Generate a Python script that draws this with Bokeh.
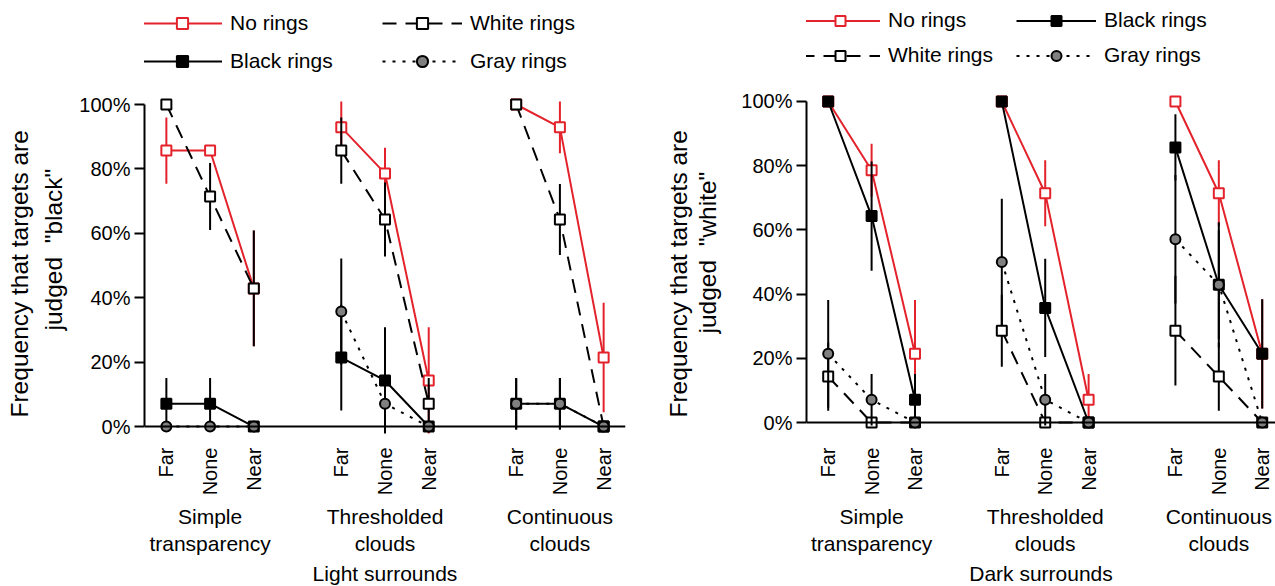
import math
from bokeh.plotting import figure
from bokeh.layouts import row
from bokeh.models import (Range1d, FixedTicker, LinearAxis, Span, Legend, LegendItem,
                          PrintfTickFormatter, Title)
from bokeh.embed import file_html
from bokeh.resources import INLINE

# ---------------- data ----------------
positions = [0, 1, 2, 4, 5, 6, 8, 9, 10]
conditions = ["Far", "None", "Near"] * 3
groups = ["Simple\ntransparency", "Thresholded\nclouds", "Continuous\nclouds"]
y_ticks = [0, 20, 40, 60, 80, 100]

# Light surrounds: % of targets judged "black"
light_no = [85.7, 85.7, 42.9, 92.9, 78.6, 14.3, 100, 92.9, 21.4]
light_no_err = [10.3, 0, 18, 8, 8, 16.5, 0, 8, 17]
light_white = [100, 71.4, 42.9, 85.7, 64.3, 7.1, 100, 64.3, 0]
light_white_err = [0, 10.4, 18, 10.3, 11.5, 8, 0, 11, 0]
light_black = [7.1, 7.1, 0, 21.4, 14.3, 0, 7.1, 7.1, 0]
light_black_err = [8, 8, 0, 16.4, 16.5, 0, 8, 8, 0]
light_gray = [0, 0, 0, 35.7, 7.1, 0, 7.1, 7.1, 0]
light_gray_err = [0, 0, 0, 16.5, 8, 0, 8, 8, 0]

# Dark surrounds: % of targets judged "white"
dark_no = [100, 78.6, 21.4, 100, 71.4, 7.1, 100, 71.4, 21.4]
dark_no_err = [0, 8.2, 16.8, 0, 10.3, 8, 0, 10.3, 17]
dark_white = [14.3, 0, 0, 28.6, 0, 0, 28.6, 14.3, 0]
dark_white_err = [10.6, 0, 0, 11.2, 0, 0, 17.1, 10.6, 0]
dark_black = [100, 64.3, 7.1, 100, 35.7, 0, 85.7, 42.9, 21.4]
dark_black_err = [0, 17, 8, 0, 15.3, 0, 10.3, 17, 17]
dark_gray = [21.4, 7.1, 0, 50, 7.1, 0, 57.1, 42.9, 0]
dark_gray_err = [16.8, 8, 0, 19.7, 8, 0, 20, 19.5, 0]

RED = "#e3222b"
FONT = "Liberation Sans"

STYLES = {
    "No rings": dict(color=RED, dash="solid", marker="square", fill="white", mline=RED, err=RED),
    "White rings": dict(color="black", dash="14 9", marker="square", fill="white", mline="black", err="black"),
    "Black rings": dict(color="black", dash="solid", marker="square", fill="black", mline="black", err="black"),
    "Gray rings": dict(color="black", dash="3 7", marker="circle", fill="#808080", mline="black", err="black"),
}


def side_title(text, size, standoff, offset):
    return Title(text=text, align="left", vertical_align="middle", offset=offset, standoff=standoff,
                 text_font=FONT, text_font_size=size, text_font_style="normal", text_color="black")


def panel(series, legend_order, ylab_lines, xlab, width, b_left, b_right, x_end, y_start, y_end,
          legend_loc, glyph_h, label_w, spacer, s_line2, s_line1, off_line1, off_line2):
    p = figure(width=width, height=588, x_range=Range1d(-0.5, x_end), y_range=Range1d(y_start, y_end),
               output_backend="svg", toolbar_location=None, x_axis_location=None, y_axis_location=None,
               min_border_left=b_left, min_border_right=b_right, min_border_top=0,
               min_border_bottom=0)
    p.outline_line_color = None
    p.background_fill_color = "white"
    p.xgrid.visible = False
    p.ygrid.visible = False

    yax = LinearAxis(ticker=FixedTicker(ticks=y_ticks), formatter=PrintfTickFormatter(format="%d%%"),
                     bounds=(0, 100))
    yax.axis_line_width = 2
    yax.major_tick_line_width = 2
    yax.major_tick_out = 10
    yax.major_tick_in = 0
    yax.minor_tick_line_color = None
    yax.major_label_standoff = 4
    yax.major_label_text_font = FONT
    yax.major_label_text_font_size = "20px"
    yax.major_label_text_color = "black"
    p.add_layout(yax, "left")

    # y-axis title, two lines, placed in side panels
    p.add_layout(side_title("\u00a0", "1px", spacer, 0), "left")
    p.add_layout(side_title(ylab_lines[1], "24.5px", s_line2, off_line2), "left")
    p.add_layout(side_title(ylab_lines[0], "24.5px", s_line1, off_line1), "left")

    cax = LinearAxis(ticker=FixedTicker(ticks=positions),
                     major_label_overrides={pos: lab for pos, lab in zip(positions, conditions)})
    cax.major_label_orientation = math.pi / 2
    cax.axis_line_color = None
    cax.major_tick_line_color = None
    cax.minor_tick_line_color = None
    cax.major_tick_out = 0
    cax.major_tick_in = 0
    cax.major_label_standoff = 11
    cax.major_label_text_font = FONT
    cax.major_label_text_font_size = "20px"
    cax.major_label_text_color = "black"
    p.add_layout(cax, "below")

    centers = [sum(positions[3 * i:3 * i + 3]) / 3 for i in range(3)]
    gax = LinearAxis(ticker=FixedTicker(ticks=centers),
                     major_label_overrides={c: g for c, g in zip(centers, groups)}, axis_label=xlab)
    gax.axis_line_color = None
    gax.major_tick_line_color = None
    gax.minor_tick_line_color = None
    gax.major_tick_out = 0
    gax.major_tick_in = 0
    gax.major_label_standoff = 6
    gax.major_label_text_font = FONT
    gax.major_label_text_font_size = "21px"
    gax.major_label_text_color = "black"
    gax.axis_label_text_font = FONT
    gax.axis_label_text_font_size = "21px"
    gax.axis_label_text_font_style = "normal"
    gax.axis_label_text_color = "black"
    gax.axis_label_standoff = 4
    p.add_layout(gax, "below")

    p.add_layout(Span(location=0, dimension="width", line_color="black", line_width=2))

    renderers = {}
    for name in ["No rings", "White rings", "Black rings", "Gray rings"]:
        vals, errs = series[name]
        st = STYLES[name]
        lo = [v - e for v, e in zip(vals, errs)]
        hi = [v + e for v, e in zip(vals, errs)]
        p.segment(x0=positions, y0=lo, x1=positions, y1=hi, line_color=st["err"], line_width=2)
        xs = [positions[3 * i:3 * i + 3] for i in range(3)]
        ys = [vals[3 * i:3 * i + 3] for i in range(3)]
        lr = p.multi_line(xs=xs, ys=ys, line_color=st["color"], line_width=2, line_dash=st["dash"])
        sr = p.scatter(x=positions, y=vals, marker=st["marker"], size=10, fill_color=st["fill"],
                       line_color=st["mline"], line_width=2)
        renderers[name] = [lr, sr]

    items = [LegendItem(label=n, renderers=renderers[n]) for n in legend_order]
    leg = Legend(items=items, location=legend_loc, orientation="horizontal", ncols=2)
    leg.glyph_width = 80
    leg.glyph_height = glyph_h
    leg.label_standoff = 8
    leg.label_width = label_w
    leg.spacing = 10
    leg.padding = 0
    leg.margin = 0
    leg.border_line_color = None
    leg.background_fill_alpha = 0
    leg.label_text_font = FONT
    leg.label_text_font_size = "21px"
    leg.label_text_color = "black"
    p.add_layout(leg)
    return p


light = {"No rings": (light_no, light_no_err), "White rings": (light_white, light_white_err),
         "Black rings": (light_black, light_black_err), "Gray rings": (light_gray, light_gray_err)}
dark = {"No rings": (dark_no, dark_no_err), "White rings": (dark_white, dark_white_err),
        "Black rings": (dark_black, dark_black_err), "Gray rings": (dark_gray, dark_gray_err)}

p1 = panel(light, ["No rings", "White rings", "Black rings", "Gray rings"],
           ["Frequency that targets are", 'judged\u00a0 "black"'], "Light surrounds",
           width=650, b_left=144, b_right=25, x_end=10.5, y_start=-3.1, y_end=132.3,
           legend_loc=(-2, 361), glyph_h=28, label_w=142,
           spacer=0, s_line2=11, s_line1=0, off_line1=19, off_line2=106)
p2 = panel(dark, ["No rings", "Black rings", "White rings", "Gray rings"],
           ["Frequency that targets are", 'judged\u00a0 "white"'], "Dark surrounds",
           width=625, b_left=156, b_right=0, x_end=10.306, y_start=-4.36, y_end=131.46,
           legend_loc=(-6, 368.5), glyph_h=25, label_w=118,
           spacer=14, s_line2=0, s_line1=0, off_line1=19, off_line2=103)

layout = row(p1, p2)
open("out.html", "w").write(file_html(layout, INLINE))
